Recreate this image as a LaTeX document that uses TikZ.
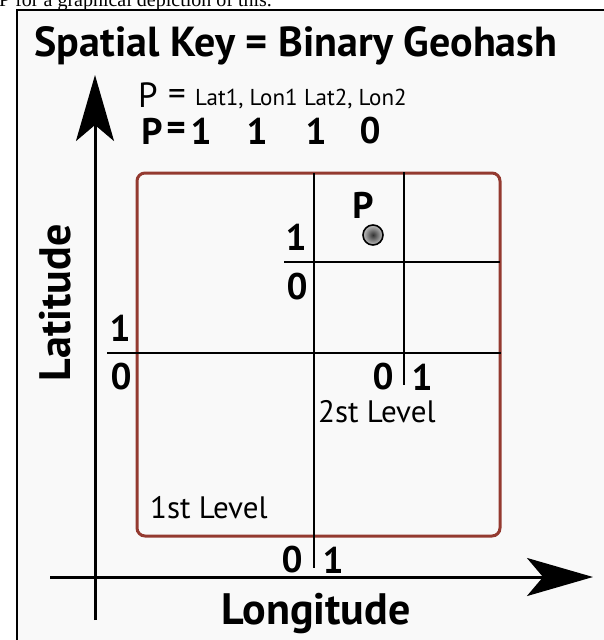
\documentclass[tikz,border=0pt]{standalone}
\usepackage{fontspec}
\setmainfont{PT Sans}
\newfontfamily\pagefont{Liberation Serif}
\usetikzlibrary{arrows.meta}
\definecolor{boxred}{RGB}{148,58,48}
\definecolor{paper}{RGB}{249,249,249}
\tikzset{big/.style={font=\fontsize{42}{42}\selectfont\bfseries, inner sep=0pt}}
\tikzset{axl/.style={font=\fontsize{44}{44}\selectfont\bfseries, inner sep=0pt}}
\tikzset{l/.style={font=\fontsize{37}{37}\selectfont\bfseries, inner sep=0pt}}
\tikzset{mid/.style={font=\fontsize{35}{35}\selectfont, inner sep=0pt}}
\tikzset{m/.style={font=\fontsize{23}{23}\selectfont, inner sep=0pt}}
\tikzset{lvl/.style={font=\fontsize{31}{31}\selectfont, inner sep=0pt}}
\tikzset{ax/.style={line width=3pt, -{Stealth[length=66pt,width=38pt,inset=16pt]}}}
\tikzset{cut/.style={line width=1.6pt}}
\tikzset{spot/.style={circle, inner sep=0pt, minimum size=20pt, draw=black, line width=1.6pt, inner color=black!80, outer color=black!25}}

\begin{document}
\begin{tikzpicture}[x=1pt,y=-1pt]
  \useasboundingbox (0,0) rectangle (604,640);
  \clip (0,0) rectangle (604,640);
  \node[anchor=base west, inner sep=0pt, font=\pagefont\fontsize{20}{20}\selectfont] (note) at (-1,6) {P for a graphical depiction of this.};
  \draw[line width=2pt, fill=paper] (17,10) rectangle (612,652);

  \node[big, anchor=base] (title) at (296,56) {Spatial Key = Binary Geohash};

  \node[mid] (p1) at (148,95) {P};
  \node[mid] (eq1) at (177,97) {=};
  \node[m, anchor=base west] (ll1) at (195,105) {Lat1, Lon1};
  \node[m, anchor=base west] (ll2) at (304,105) {Lat2, Lon2};
  \node[l] (p2) at (152,131) {P};
  \node[l] (eq2) at (176,131) {=};
  \node[l] (k1) at (201,131) {1};
  \node[l] (k2) at (257,131) {1};
  \node[l] (k3) at (316,131) {1};
  \node[l] (k4) at (370,131) {0};

  \coordinate (bxa) at (137,173);
  \coordinate (bxb) at (500,536);
  \draw[boxred, line width=3pt, rounded corners=8pt] (bxa) rectangle (bxb);

  \coordinate (va) at (314,173);
  \coordinate (vb) at (314,568);
  \coordinate (ha) at (107,353);
  \coordinate (hb) at (501,353);
  \coordinate (wa) at (404,172);
  \coordinate (wb) at (404,385);
  \coordinate (ga) at (284,262);
  \coordinate (gb) at (500,262);
  \draw[cut] (va) -- (vb);
  \draw[cut] (ha) -- (hb);
  \draw[cut] (wa) -- (wb);
  \draw[cut] (ga) -- (gb);

  \coordinate (xa) at (50,577);
  \coordinate (xb) at (593,577);
  \coordinate (ya) at (95,620);
  \coordinate (yb) at (95,75);
  \draw[ax] (xa) -- (xb);
  \draw[ax] (ya) -- (yb);

  \node[l] (lat1) at (120,328) {1};
  \node[l] (lat0) at (121,377) {0};
  \node[l] (sub1) at (296,237) {1};
  \node[l] (sub0) at (297,287) {0};
  \node[l] (lon0) at (383,377) {0};
  \node[l] (lon1) at (422,377) {1};
  \node[l] (bot0) at (292,560) {0};
  \node[l] (bot1) at (333,560) {1};

  \node[l] (plbl) at (363,205) {P};
  \node[spot] (pt) at (373,235) {};

  \node[lvl, anchor=base west] (lv2) at (318,422) {2st Level};
  \node[lvl, anchor=base west] (lv1) at (150,518) {1st Level};

  \node[axl, anchor=base] (lon) at (316,624) {Longitude};
  \node[axl, anchor=base, rotate=90] (lat) at (70,303) {Latitude};
\end{tikzpicture}
\end{document}
